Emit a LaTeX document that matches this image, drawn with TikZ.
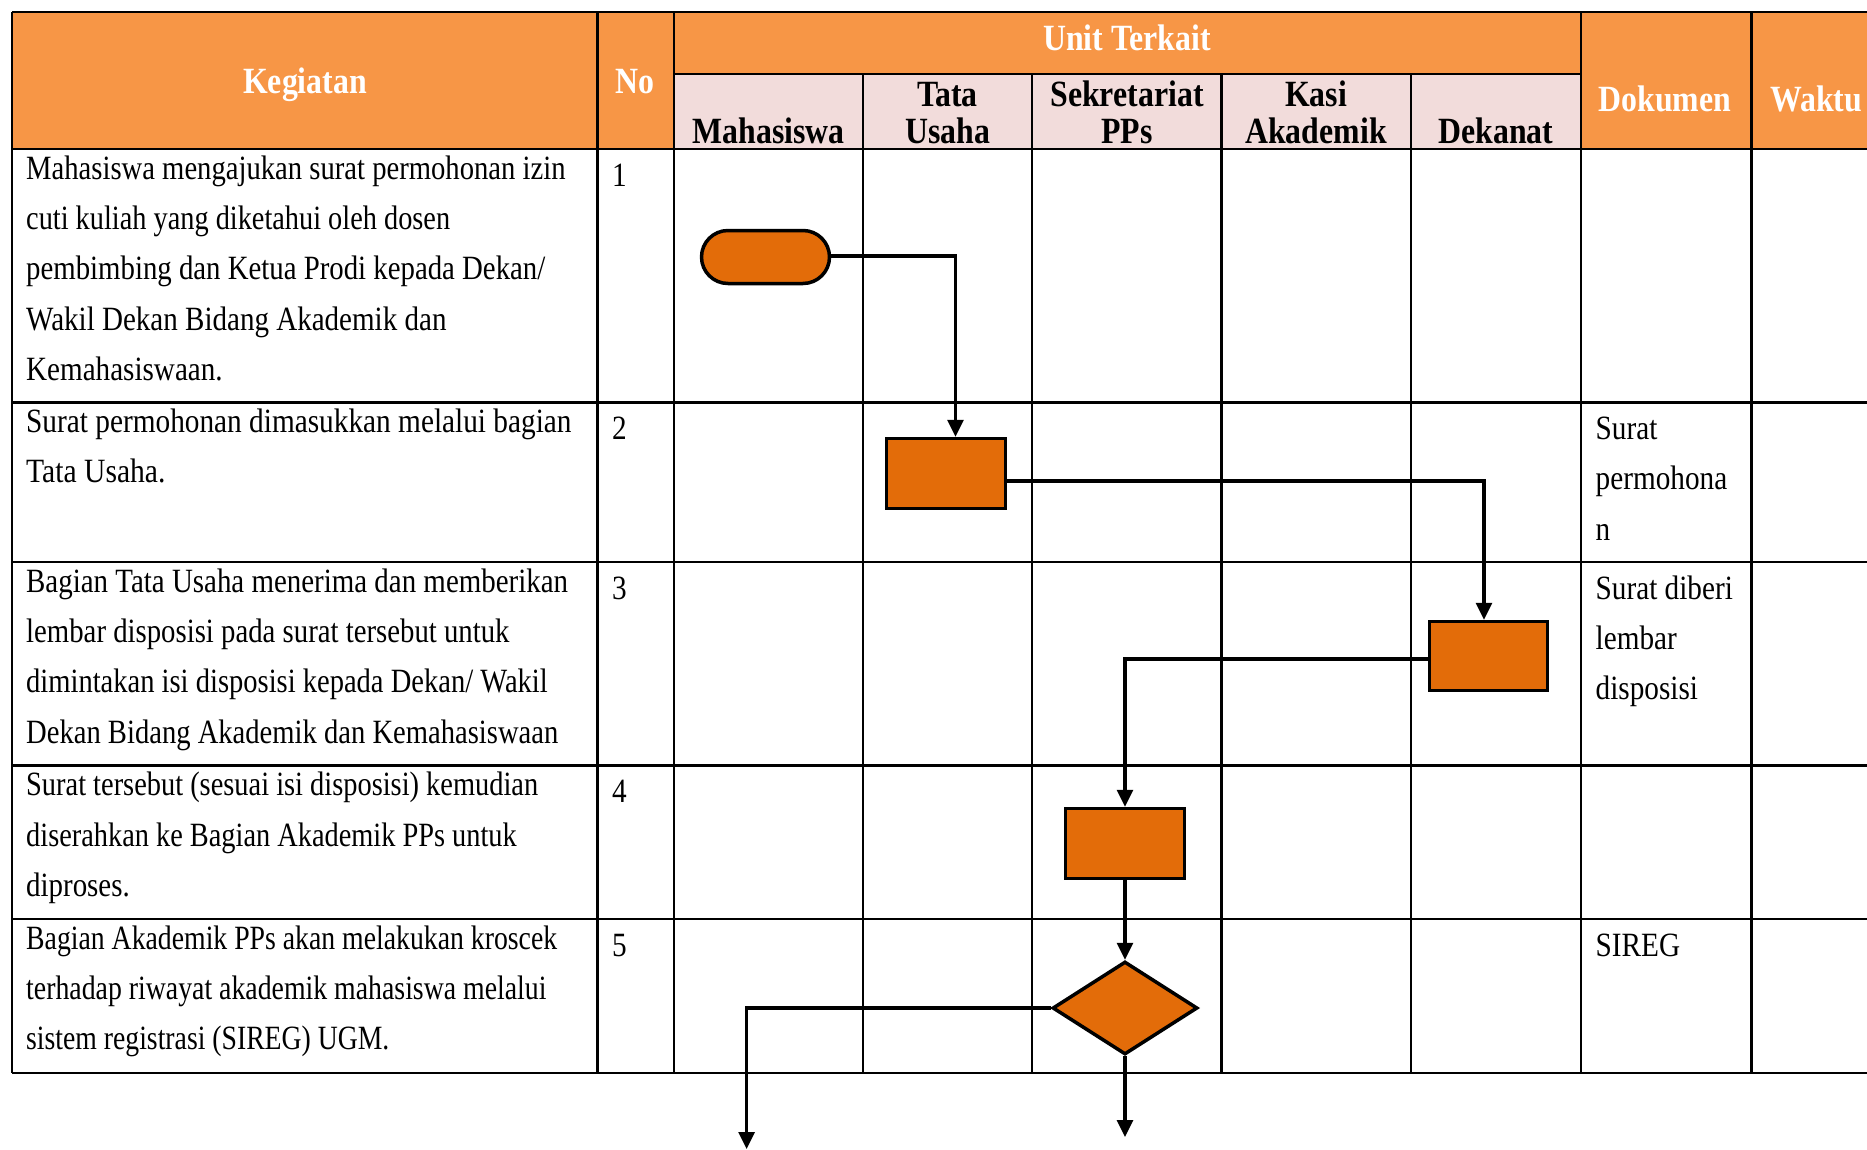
\documentclass[tikz,border=0pt]{standalone}
\usepackage{fontspec}
\usepackage{graphicx}
\setmainfont[FakeStretch=0.86]{Liberation Serif}
\usetikzlibrary{arrows.meta,shapes.geometric}

\definecolor{hdrorange}{HTML}{F79646}
\definecolor{subpink}{HTML}{F2DCDB}
\definecolor{flowfill}{HTML}{E36C09}

\newcommand\txtfont{\fontsize{34}{50.4}\selectfont}
\newcommand\hdfont{\fontsize{37}{37}\selectfont\bfseries}
\newcommand\cellT[1]{\begin{tabular}[t]{@{}l@{}}#1\end{tabular}}
\newcommand\cellB[1]{\begin{tabular}[b]{@{}c@{}}#1\end{tabular}}
% one line of the activity column, set to a given width (in pt)
\newcommand\fitln[2]{\resizebox{#1pt}{\height}{#2}}

\tikzset{
  grid/.style={line width=2.5pt},
  hdr/.style={anchor=base, inner sep=0pt, font=\hdfont, text=white},
  subhdr/.style={anchor=base, inner sep=0pt, font=\hdfont, text=black},
  body/.style={anchor=base west, inner sep=0pt, font=\txtfont},
  flowbox/.style={draw=black, fill=flowfill, line width=3.5pt, inner sep=0pt},
  arr/.style={line width=3.1pt, -{Triangle[length=17pt,width=16pt]}},
}

\begin{document}
\begin{tikzpicture}[x=1pt,y=-1pt]
\useasboundingbox (0,0) rectangle (1867,1149);

% header backgrounds
\fill[hdrorange] (12,12) rectangle (1867,148.8);
\fill[subpink] (674,73.8) rectangle (1581,148.8);

% table rules
\foreach \yy in {12,148.8,402.5,562,765.6,919,1073}
  \draw[grid] (12,\yy) -- (1867,\yy);
\draw[grid] (674,73.8) -- (1581,73.8);
\foreach \xx in {12,597.7,674,1581,1751.5}
  \draw[grid] (\xx,12) -- (\xx,1073);
\foreach \xx in {863,1032,1221.6,1411}
  \draw[grid] (\xx,73.8) -- (\xx,1073);

% header labels
\node[hdr] (hKeg) at (305,93) {Kegiatan};
\node[hdr] (hNo) at (635,93) {No};
\node[hdr] (hUnit) at (1127,50) {Unit Terkait};
\node[hdr] (hDok) at (1665,111) {Dokumen};
\node[hdr, anchor=base west] (hWaktu) at (1770,111) {Waktu};

\node[subhdr] (sMhs) at (768.5,143) {Mahasiswa};
\node[subhdr] (sTU) at (947.5,143) {\cellB{Tata\\Usaha}};
\node[subhdr] (sSek) at (1127,143) {\cellB{Sekretariat\\PPs}};
\node[subhdr] (sKasi) at (1316,143) {\cellB{Kasi\\Akademik}};
\node[subhdr] (sDek) at (1496,143) {Dekanat};

% activity descriptions
\node[body] (k1) at (26,179) {\cellT{%
  \fitln{539.4}{Mahasiswa mengajukan surat permohonan izin}\\
  \fitln{423.9}{cuti kuliah yang diketahui oleh dosen}\\
  \fitln{519.1}{pembimbing dan Ketua Prodi kepada Dekan/}\\
  \fitln{420.3}{Wakil Dekan Bidang Akademik dan}\\
  \fitln{196.5}{Kemahasiswaan.}}};
\node[body] (k2) at (26,432.5) {\cellT{%
  \fitln{545.3}{Surat permohonan dimasukkan melalui bagian}\\
  \fitln{139.3}{Tata Usaha.}}};
\node[body] (k3) at (26,592) {\cellT{%
  \fitln{541.8}{Bagian Tata Usaha menerima dan memberikan}\\
  \fitln{483.4}{lembar disposisi pada surat tersebut untuk}\\
  \fitln{521.5}{dimintakan isi disposisi kepada Dekan/ Wakil}\\
  \fitln{532.2}{Dekan Bidang Akademik dan Kemahasiswaan}}};
\node[body] (k4) at (26,795.6) {\cellT{%
  \fitln{512}{Surat tersebut (sesuai isi disposisi) kemudian}\\
  \fitln{490.6}{diserahkan ke Bagian Akademik PPs untuk}\\
  \fitln{103.6}{diproses.}}};
\node[body] (k5) at (26,949) {\cellT{%
  \fitln{531}{Bagian Akademik PPs akan melakukan kroscek}\\
  \fitln{520.3}{terhadap riwayat akademik mahasiswa melalui}\\
  \fitln{363.2}{sistem registrasi (SIREG) UGM.}}};

% row numbers
\node[body] (n1) at (612,186.5) {1};
\node[body] (n2) at (612,439.5) {2};
\node[body] (n3) at (612,599) {3};
\node[body] (n4) at (612,802.6) {4};
\node[body] (n5) at (612,956) {5};

% documents
\node[body] (d2) at (1595.5,439.5) {\cellT{Surat\\permohona\\n}};
\node[body] (d3) at (1595.5,599) {\cellT{Surat diberi\\lembar\\disposisi}};
\node[body] (d5) at (1595.5,956) {SIREG};

% flow shapes
\node[flowbox, rounded corners=26.5pt, minimum width=128pt, minimum height=53pt] (term) at (765.5,257) {};
\node[flowbox, minimum width=119pt, minimum height=70pt] (box2) at (946,473.5) {};
\node[flowbox, minimum width=118pt, minimum height=69pt] (box3) at (1488.5,656) {};
\node[flowbox, minimum width=119pt, minimum height=70pt] (box4) at (1125,843.5) {};
\node[flowbox, shape=diamond, minimum width=145pt, minimum height=93pt] (dia) at (1125,1008) {};

\coordinate (endL) at (746.6,1149);
\coordinate (endC) at (1125,1137);

% connectors
\draw[arr] ([yshift=1pt]term.east) -| ([xshift=9.5pt]box2.north);
\draw[arr] ([yshift=-7.5pt]box2.east) -| ([xshift=-4.5pt]box3.north);
\draw[arr] ([yshift=-3pt]box3.west) -| (box4.north);
\draw[arr] (box4.south) -- (dia.north);
\draw[arr] (dia.west) -| (endL);
\draw[arr] (dia.south) -- (endC);
\end{tikzpicture}
\end{document}
